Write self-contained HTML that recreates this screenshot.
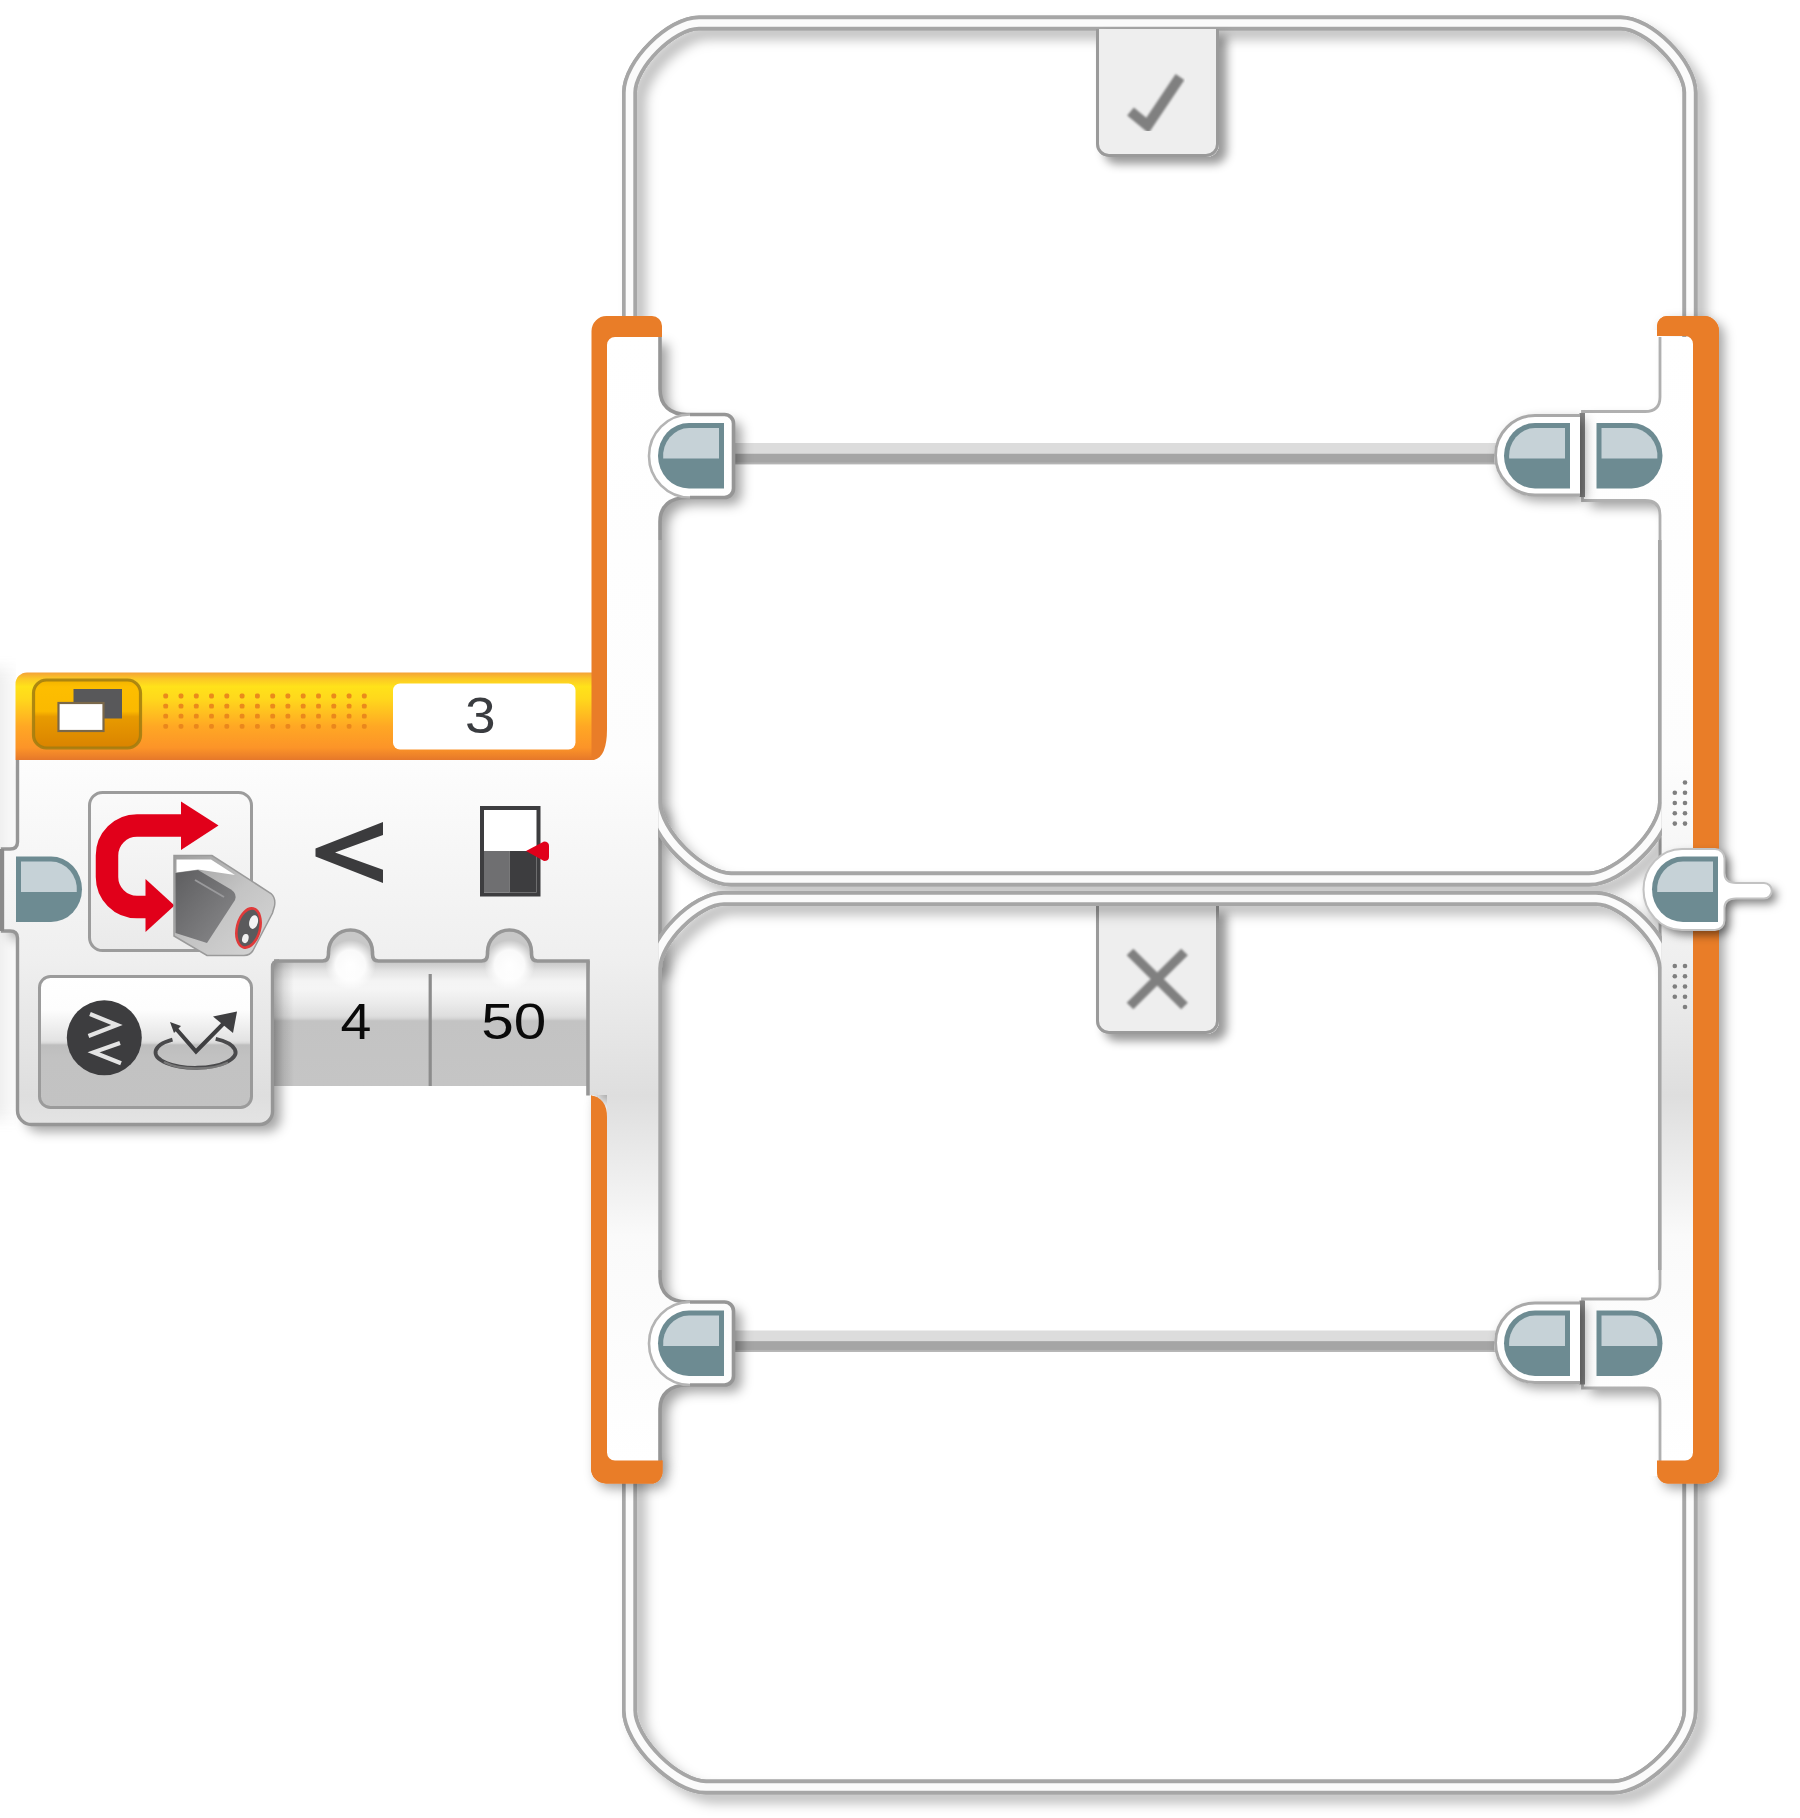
<!DOCTYPE html>
<html><head><meta charset="utf-8"><title>EV3 Switch</title>
<style>
html,body{margin:0;padding:0;background:#fff;}
body{width:1800px;height:1818px;overflow:hidden;font-family:"Liberation Sans",sans-serif;}
svg{display:block;filter:blur(0.55px);}
text{font-family:"Liberation Sans",sans-serif;}
</style></head><body>
<svg width="1800" height="1818" viewBox="0 0 1800 1818">
<defs>
<filter id="shF" filterUnits="userSpaceOnUse" x="0" y="0" width="1800" height="1818"><feDropShadow dx="9" dy="9" stdDeviation="6" flood-color="#000" flood-opacity="0.25"/></filter>
<filter id="shB" filterUnits="userSpaceOnUse" x="0" y="0" width="1800" height="1818"><feDropShadow dx="8" dy="7" stdDeviation="6" flood-color="#000" flood-opacity="0.36"/></filter>
<filter id="shO" filterUnits="userSpaceOnUse" x="0" y="0" width="1800" height="1818"><feDropShadow dx="5" dy="5" stdDeviation="6" flood-color="#000" flood-opacity="0.36"/></filter>
<filter id="shT" filterUnits="userSpaceOnUse" x="0" y="0" width="1800" height="1818"><feDropShadow dx="8" dy="7" stdDeviation="5" flood-color="#000" flood-opacity="0.40"/></filter>
<filter id="shP" filterUnits="userSpaceOnUse" x="0" y="0" width="1800" height="1818"><feDropShadow dx="5" dy="5" stdDeviation="5" flood-color="#000" flood-opacity="0.5"/></filter>
<filter id="blurS" filterUnits="userSpaceOnUse" x="-40" y="600" width="120" height="600"><feGaussianBlur stdDeviation="0 7"/></filter>
<filter id="blur1"><feGaussianBlur stdDeviation="0.8"/></filter>
<linearGradient id="gBody" gradientUnits="userSpaceOnUse" x1="0" y1="337" x2="0" y2="1461">
 <stop offset="0" stop-color="#ffffff"/>
 <stop offset="0.376" stop-color="#fdfdfd"/>
 <stop offset="0.554" stop-color="#efefef"/>
 <stop offset="0.675" stop-color="#dedede"/>
 <stop offset="0.80" stop-color="#fafafa"/>
 <stop offset="1" stop-color="#ffffff"/>
</linearGradient>
<linearGradient id="gHead" x1="0" y1="0" x2="0" y2="1">
 <stop offset="0" stop-color="#F4A238"/>
 <stop offset="0.07" stop-color="#FBC726"/>
 <stop offset="0.16" stop-color="#FFE21A"/>
 <stop offset="0.30" stop-color="#FFD81C"/>
 <stop offset="0.62" stop-color="#FFA724"/>
 <stop offset="0.86" stop-color="#FC9428"/>
 <stop offset="0.95" stop-color="#EE8229"/>
 <stop offset="1" stop-color="#E5772A"/>
</linearGradient>
<linearGradient id="gBtn" x1="0" y1="0" x2="0" y2="1">
 <stop offset="0" stop-color="#F2B200"/>
 <stop offset="0.10" stop-color="#FDBE00"/>
 <stop offset="0.46" stop-color="#FBB900"/>
 <stop offset="0.54" stop-color="#E89B00"/>
 <stop offset="1" stop-color="#DA8300"/>
</linearGradient>
<linearGradient id="gParam" gradientUnits="userSpaceOnUse" x1="0" y1="960" x2="0" y2="1086">
 <stop offset="0.016" stop-color="#c8c8c8"/>
 <stop offset="0.048" stop-color="#d3d3d3"/>
 <stop offset="0.087" stop-color="#e3e3e3"/>
 <stop offset="0.167" stop-color="#f4f4f4"/>
 <stop offset="0.23" stop-color="#f5f5f5"/>
 <stop offset="0.34" stop-color="#ebebeb"/>
 <stop offset="0.444" stop-color="#dedede"/>
 <stop offset="0.462" stop-color="#d6d6d6"/>
 <stop offset="0.484" stop-color="#c3c3c3"/>
 <stop offset="1" stop-color="#c5c5c5"/>
</linearGradient>
<radialGradient id="gHi"><stop offset="0" stop-color="#fff" stop-opacity="1"/><stop offset="0.6" stop-color="#fff" stop-opacity="0.9"/><stop offset="1" stop-color="#fff" stop-opacity="0"/></radialGradient>
<linearGradient id="gStripSh" x1="0" y1="0" x2="1" y2="0">
 <stop offset="0" stop-color="#000" stop-opacity="0.30"/><stop offset="0.5" stop-color="#000" stop-opacity="0.10"/><stop offset="1" stop-color="#000" stop-opacity="0"/>
</linearGradient>
<linearGradient id="gMode" gradientUnits="userSpaceOnUse" x1="0" y1="975" x2="0" y2="1109">
 <stop offset="0" stop-color="#ffffff"/>
 <stop offset="0.26" stop-color="#fdfdfd"/>
 <stop offset="0.49" stop-color="#e3e3e3"/>
 <stop offset="0.508" stop-color="#d8d8d8"/>
 <stop offset="0.522" stop-color="#bebebe"/>
 <stop offset="0.62" stop-color="#c2c2c2"/>
 <stop offset="1" stop-color="#c3c3c3"/>
</linearGradient>
<linearGradient id="gIcon" x1="0" y1="0" x2="0" y2="1">
 <stop offset="0" stop-color="#fafafa"/><stop offset="1" stop-color="#eaeaea"/>
</linearGradient>
<linearGradient id="gSensD" x1="0" y1="0" x2="1" y2="1">
 <stop offset="0" stop-color="#5e5e60"/><stop offset="1" stop-color="#8a8a8c"/>
</linearGradient>
<linearGradient id="gSensL" x1="0" y1="0" x2="1" y2="1">
 <stop offset="0" stop-color="#9c9c9c"/><stop offset="0.5" stop-color="#c4c4c4"/><stop offset="1" stop-color="#d6d6d6"/>
</linearGradient>
<linearGradient id="gStrip" gradientUnits="userSpaceOnUse" x1="0" y1="0" x2="16" y2="0">
 <stop offset="0" stop-color="#dcdcdc"/><stop offset="1" stop-color="#f6f6f6"/>
</linearGradient>
<clipPath id="clipIn"><rect x="658.2" y="520" width="1003.6" height="770"/></clipPath>
<clipPath id="clipOR"><path clip-rule="evenodd" d="M1600,280 H1800 V1560 H1600 Z M1630,330 H1712 V1476 H1630 Z"/></clipPath>
<clipPath id="clipOL"><path clip-rule="evenodd" d="M560,1080 H720 V1560 H560 Z M598,1060 H661 V1476 H598 Z"/></clipPath>
<g id="pin">
 <path d="M66,0 V65.5 H31 A31,32.75 0 0 1 31,0 Z" fill="#6D8B92"/>
 <path d="M61,5 V35.5 H5.2 A26,28 0 0 1 31,5 Z" fill="#C6D2D7"/>
</g>
</defs>
<rect width="1800" height="1818" fill="#fff"/>

<rect x="-12" y="668" width="28" height="452" fill="url(#gStrip)" opacity="0.42" filter="url(#blurS)"/>
<g filter="url(#shF)" fill="none">
<path d="M699.0,23 H1620.5 C1648.5,23 1690,64.5 1690,92.5 V1710.5 C1690,1741.0 1644.0,1787 1613.5,1787 H706.0 C675.5,1787 629.5,1741.0 629.5,1710.5 V92.5 C629.5,64.5 671.0,23 699.0,23 Z" stroke="#a6a6a6" stroke-width="15"/>
</g>
<g fill="none">
<path d="M699.0,23 H1620.5 C1648.5,23 1690,64.5 1690,92.5 V1710.5 C1690,1741.0 1644.0,1787 1613.5,1787 H706.0 C675.5,1787 629.5,1741.0 629.5,1710.5 V92.5 C629.5,64.5 671.0,23 699.0,23 Z" stroke="#a6a6a6" stroke-width="15"/>
<path d="M699.0,23 H1620.5 C1648.5,23 1690,64.5 1690,92.5 V1710.5 C1690,1741.0 1644.0,1787 1613.5,1787 H706.0 C675.5,1787 629.5,1741.0 629.5,1710.5 V92.5 C629.5,64.5 671.0,23 699.0,23 Z" stroke="#fbfbfb" stroke-width="7.6"/>
</g>
<rect x="730" y="443" width="770" height="10.6" fill="#dcdcdc"/>
<rect x="730" y="453.6" width="770" height="10.6" fill="#a5a5a5"/>
<rect x="730" y="462.4" width="770" height="1.8" fill="#b4b4b4"/>
<rect x="730" y="1330.5" width="770" height="10.6" fill="#dcdcdc"/>
<rect x="730" y="1341.1" width="770" height="10.6" fill="#a5a5a5"/>
<rect x="730" y="1349.9" width="770" height="1.8" fill="#b4b4b4"/>
<g filter="url(#shT)"><path d="M1096,29 H1219 V144 A13,13 0 0 1 1206,157 H1109 A13,13 0 0 1 1096,144 Z" fill="#eeeeee"/></g>
<path d="M1097.5,29 V144 A11.5,11.5 0 0 0 1109,155.5 H1206 A11.5,11.5 0 0 0 1217.5,144 V29" fill="none" stroke="#9a9a9a" stroke-width="3"/>
<path d="M1130.5,111.5 L1147.5,125.5 L1180,77" fill="none" stroke="#808080" stroke-width="10.5" stroke-linejoin="miter" filter="url(#blur1)"/>
<g filter="url(#shT)"><path d="M1096,906 H1219 V1021 A13,13 0 0 1 1206,1034 H1109 A13,13 0 0 1 1096,1021 Z" fill="#eeeeee"/></g>
<path d="M1097.5,906 V1021 A11.5,11.5 0 0 0 1109,1032.5 H1206 A11.5,11.5 0 0 0 1217.5,1021 V906" fill="none" stroke="#9a9a9a" stroke-width="3"/>
<path d="M1130,952 L1184.5,1006 M1184.5,952 L1130,1006" fill="none" stroke="#808080" stroke-width="9.5" filter="url(#blur1)"/>
<g filter="url(#shB)">
<path d="M16.5,760 H592 V700 H607 V337 H660 V389.0 C660,405.5 670,414.5 687,414.5 H724.5 A9,9 0 0 1 733.5,423.5 V488.5 A9,9 0 0 1 724.5,497.5 H687 C670,497.5 660,506.5 660,521.5 V1276.5 C660,1293.0 670,1302.0 687,1302.0 H724.5 A9,9 0 0 1 733.5,1311.0 V1376.0 A9,9 0 0 1 724.5,1385.0 H687 C670,1385.0 660,1394.0 660,1409.0 V1462 H607 V1095 H590 V961 H272.5 V1111 A13,13 0 0 1 259.5,1124.5 H31 A14,14 0 0 1 17.5,1110.5 V938 Q17.5,931 10,931 H2 V849 H10 Q17.5,849 17.5,842 Z" fill="url(#gBody)"/>
<path d="M1693,1462 H1660 V1402.5 Q1660,1388.0 1645,1388.0 H1582.5 V1299.0 H1645 Q1660,1299.0 1660,1284.5 V515.0 Q1660,500.5 1645,500.5 H1582.5 V411.5 H1645 Q1660,411.5 1660,397.0 V337 H1693 Z" fill="url(#gBody)"/>
</g>
<path d="M660,337 V389.0 C660,405.5 670,414.5 687,414.5 H724.5 A9,9 0 0 1 733.5,423.5 V488.5 A9,9 0 0 1 724.5,497.5 H687 C670,497.5 660,506.5 660,521.5 V1276.5 C660,1293.0 670,1302.0 687,1302.0 H724.5 A9,9 0 0 1 733.5,1311.0 V1376.0 A9,9 0 0 1 724.5,1385.0 H687 C670,1385.0 660,1394.0 660,1409.0 V1462" fill="none" stroke="#969696" stroke-width="3.6"/>
<path d="M1660,1462 V1402.5 Q1660,1388.0 1645,1388.0 H1582.5 V1299.0 H1645 Q1660,1299.0 1660,1284.5 V515.0 Q1660,500.5 1645,500.5 H1582.5 V411.5 H1645 Q1660,411.5 1660,397.0 V337" fill="none" stroke="#b0b0b0" stroke-width="2.8"/>
<rect x="1579.5" y="413" width="5.5" height="84" fill="#858585"/>
<rect x="1579.5" y="1300.5" width="5.5" height="84" fill="#858585"/>
<path d="M17.5,760 V842 Q17.5,849 10,849 H2.5 V931 H10 Q17.5,931 17.5,938 V1110.5 A14,14 0 0 0 31.5,1124.5 H259.5 A13,13 0 0 0 272.5,1111 V967 Q272.5,961 279,961" fill="none" stroke="#969696" stroke-width="3.4"/>
<rect x="0" y="849" width="4" height="82" fill="#8a8a8a"/>
<g clip-path="url(#clipIn)">
<g filter="url(#shF)" fill="none">
<path d="M654.5,802.5 C654.5,833.0 700.5,879 731.0,879 H1589.0 C1619.5,879 1665.5,833.0 1665.5,802.5" stroke="#a6a6a6" stroke-width="15"/>
<path d="M654.5,968.0 C654.5,940.0 696.0,898.5 724.0,898.5 H1596.0 C1624.0,898.5 1665.5,940.0 1665.5,968.0" stroke="#a6a6a6" stroke-width="15"/>
</g>
<g fill="none">
<path d="M654.5,540 V802.5 C654.5,833.0 700.5,879 731.0,879 H1589.0 C1619.5,879 1665.5,833.0 1665.5,802.5 V540" stroke="#a6a6a6" stroke-width="15"/>
<path d="M654.5,1270 V968.0 C654.5,940.0 696.0,898.5 724.0,898.5 H1596.0 C1624.0,898.5 1665.5,940.0 1665.5,968.0 V1270" stroke="#a6a6a6" stroke-width="15"/>
<path d="M654.5,540 V802.5 C654.5,833.0 700.5,879 731.0,879 H1589.0 C1619.5,879 1665.5,833.0 1665.5,802.5 V540" stroke="#fbfbfb" stroke-width="7.6"/>
<path d="M654.5,1270 V968.0 C654.5,940.0 696.0,898.5 724.0,898.5 H1596.0 C1624.0,898.5 1665.5,940.0 1665.5,968.0 V1270" stroke="#fbfbfb" stroke-width="7.6"/>
</g>
</g>
<path d="M690,414.5 A41,41.5 0 0 0 690,497.5" fill="#ffffff" stroke="#b4b4b4" stroke-width="2.6"/>
<g filter="url(#shO)"><path d="M1580,414.5 V496.0 H1535 A41,40.75 0 0 1 1535,414.5 Z" fill="#ffffff"/></g>
<path d="M1580,415.5 H1535 A39.5,39.75 0 0 0 1535,495.0 H1580" fill="none" stroke="#a9a9a9" stroke-width="3"/>
<path d="M690,1302.0 A41,41.5 0 0 0 690,1385.0" fill="#ffffff" stroke="#b4b4b4" stroke-width="2.6"/>
<g filter="url(#shO)"><path d="M1580,1302.0 V1383.5 H1535 A41,40.75 0 0 1 1535,1302.0 Z" fill="#ffffff"/></g>
<path d="M1580,1303.0 H1535 A39.5,39.75 0 0 0 1535,1382.5 H1580" fill="none" stroke="#a9a9a9" stroke-width="3"/>
<path d="M274,961 H322.5 Q328.5,961 328.5,954 V952 A22,22 0 0 1 372.5,952 V954 Q372.5,961 378.5,961 H481.5 Q487.5,961 487.5,954 V952 A22,22 0 0 1 531.5,952 V954 Q531.5,961 537.5,961 H588 V1086 H274 Z" fill="url(#gParam)"/>
<ellipse cx="350.5" cy="965" rx="25" ry="25" fill="url(#gHi)"/>
<ellipse cx="509.5" cy="965" rx="25" ry="25" fill="url(#gHi)"/>
<rect x="274" y="962" width="20" height="124" fill="url(#gStripSh)"/>
<path d="M274,961 H322.5 Q328.5,961 328.5,954 V952 A22,22 0 0 1 372.5,952 V954 Q372.5,961 378.5,961 H481.5 Q487.5,961 487.5,954 V952 A22,22 0 0 1 531.5,952 V954 Q531.5,961 537.5,961 H588 V1095.5" fill="none" stroke="#969696" stroke-width="3.6"/>
<rect x="428.6" y="974" width="3.2" height="112" fill="#8c8c8c"/>
<rect x="39.5" y="976.5" width="212" height="131" rx="11" fill="url(#gMode)" stroke="#9b9b9b" stroke-width="3"/>
<circle cx="104.3" cy="1037.8" r="37.5" fill="#3d3d3f"/>
<path d="M90,1014 L117,1025 L88.5,1036 M120,1043 L93.5,1052.3 L121,1063.3" fill="none" stroke="#e4e4e4" stroke-width="4.2" stroke-linejoin="miter"/>
<path d="M172.5,1039.6 A40,15.5 0 1 0 215.7,1038.9" fill="none" stroke="#4a4a4c" stroke-width="3.8"/>
<path d="M164,1062 A40,15.5 0 0 0 228,1062.5" fill="none" stroke="#8a8a8a" stroke-width="2.2" opacity="0.7"/>
<path d="M174.5,1027 L196,1051.5 L226,1021" fill="none" stroke="#3f3f41" stroke-width="4"/>
<path d="M213,1016.5 L237,1011.5 L233,1033 Z" fill="#3f3f41"/>
<path d="M170,1022 L181,1026 L174,1033 Z" fill="#3f3f41"/>
<rect x="89.5" y="792.5" width="162" height="158" rx="13" fill="url(#gIcon)" stroke="#9c9c9c" stroke-width="3"/>
<path d="M183,825.5 H137 A30,30 0 0 0 107,855.5 V877 A30,30 0 0 0 137,907 H147" fill="none" stroke="#E1001A" stroke-width="22.5"/>
<path d="M181,801.5 L218.5,825.5 L181,850 Z" fill="#E1001A"/>
<path d="M145.5,879 L174.5,905.5 L145.5,932 Z" fill="#E1001A"/>
<path d="M174,855.5 H212 L271,893.5 Q276,898 274.5,906 L272.5,913 L253,950.5 Q250,955.5 244,955.5 H207 L174,936 Z" fill="url(#gSensL)" stroke="#9a9a9a" stroke-width="1.5"/>
<path d="M176.5,859.5 H211 L235,875 L198,869.5 L176.5,872.5 Z" fill="#ffffff"/>
<path d="M175.5,873 L198,870 L231,889.5 Q237.5,894 235,900 L207,943 L175.5,933 Z" fill="url(#gSensD)"/>
<path d="M195,880 L224,897" stroke="#9a9a9c" stroke-width="2" fill="none"/>
<g transform="rotate(14 248.5 928)"><ellipse cx="248.5" cy="928" rx="11.5" ry="20" fill="#5a5a5c" stroke="#E03A3A" stroke-width="2.6"/><ellipse cx="252" cy="921" rx="4.3" ry="7" fill="#f4f4f4"/><ellipse cx="248" cy="939" rx="3.2" ry="4.6" fill="#f0f0f0"/></g>
<path d="M383,822 L315.5,848.5 V856.5 L383,883 V869.8 L335,852.5 L383,835 Z" fill="#3b3b3d"/>
<rect x="482" y="808" width="56.5" height="86.5" fill="#ffffff" stroke="#3d3d3f" stroke-width="4"/>
<rect x="484" y="851" width="25.5" height="41.5" fill="#6f6f71"/>
<rect x="509.5" y="851" width="27" height="41.5" fill="#3d3d3f"/>
<path d="M526,851 L544,841.5 Q549,841.5 549,846 V857 Q549,861 544,861 Z" fill="#E1001A"/>
<text x="356" y="1039" font-size="50.5" text-anchor="middle" fill="#0a0a0a" transform="translate(356 0) scale(1.1 1) translate(-356 0)">4</text>
<text x="513.8" y="1039" font-size="50" text-anchor="middle" fill="#0a0a0a" transform="translate(513.8 0) scale(1.17 1) translate(-513.8 0)">50</text>
<path d="M15.5,760 V684 A11.5,11.5 0 0 1 27,672.5 H592.5 V760 Z" fill="url(#gHead)"/>
<rect x="33.5" y="680" width="107" height="68" rx="13" fill="url(#gBtn)" stroke="#A07C10" stroke-width="3.2" stroke-opacity="0.85"/>
<rect x="73.5" y="689" width="48.5" height="29.5" fill="#58585a"/>
<rect x="58.5" y="703" width="45" height="28" fill="#ffffff" stroke="#7a684a" stroke-width="2.2"/>
<g fill="#E9861C" opacity="0.95">
<rect x="163.3" y="693.6" width="4.8" height="4.8" rx="1.6"/>
<rect x="163.3" y="703.7" width="4.8" height="4.8" rx="1.6"/>
<rect x="163.3" y="713.8" width="4.8" height="4.8" rx="1.6"/>
<rect x="163.3" y="723.9" width="4.8" height="4.8" rx="1.6"/>
<rect x="178.6" y="693.6" width="4.8" height="4.8" rx="1.6"/>
<rect x="178.6" y="703.7" width="4.8" height="4.8" rx="1.6"/>
<rect x="178.6" y="713.8" width="4.8" height="4.8" rx="1.6"/>
<rect x="178.6" y="723.9" width="4.8" height="4.8" rx="1.6"/>
<rect x="193.9" y="693.6" width="4.8" height="4.8" rx="1.6"/>
<rect x="193.9" y="703.7" width="4.8" height="4.8" rx="1.6"/>
<rect x="193.9" y="713.8" width="4.8" height="4.8" rx="1.6"/>
<rect x="193.9" y="723.9" width="4.8" height="4.8" rx="1.6"/>
<rect x="209.1" y="693.6" width="4.8" height="4.8" rx="1.6"/>
<rect x="209.1" y="703.7" width="4.8" height="4.8" rx="1.6"/>
<rect x="209.1" y="713.8" width="4.8" height="4.8" rx="1.6"/>
<rect x="209.1" y="723.9" width="4.8" height="4.8" rx="1.6"/>
<rect x="224.4" y="693.6" width="4.8" height="4.8" rx="1.6"/>
<rect x="224.4" y="703.7" width="4.8" height="4.8" rx="1.6"/>
<rect x="224.4" y="713.8" width="4.8" height="4.8" rx="1.6"/>
<rect x="224.4" y="723.9" width="4.8" height="4.8" rx="1.6"/>
<rect x="239.7" y="693.6" width="4.8" height="4.8" rx="1.6"/>
<rect x="239.7" y="703.7" width="4.8" height="4.8" rx="1.6"/>
<rect x="239.7" y="713.8" width="4.8" height="4.8" rx="1.6"/>
<rect x="239.7" y="723.9" width="4.8" height="4.8" rx="1.6"/>
<rect x="255.0" y="693.6" width="4.8" height="4.8" rx="1.6"/>
<rect x="255.0" y="703.7" width="4.8" height="4.8" rx="1.6"/>
<rect x="255.0" y="713.8" width="4.8" height="4.8" rx="1.6"/>
<rect x="255.0" y="723.9" width="4.8" height="4.8" rx="1.6"/>
<rect x="270.3" y="693.6" width="4.8" height="4.8" rx="1.6"/>
<rect x="270.3" y="703.7" width="4.8" height="4.8" rx="1.6"/>
<rect x="270.3" y="713.8" width="4.8" height="4.8" rx="1.6"/>
<rect x="270.3" y="723.9" width="4.8" height="4.8" rx="1.6"/>
<rect x="285.5" y="693.6" width="4.8" height="4.8" rx="1.6"/>
<rect x="285.5" y="703.7" width="4.8" height="4.8" rx="1.6"/>
<rect x="285.5" y="713.8" width="4.8" height="4.8" rx="1.6"/>
<rect x="285.5" y="723.9" width="4.8" height="4.8" rx="1.6"/>
<rect x="300.8" y="693.6" width="4.8" height="4.8" rx="1.6"/>
<rect x="300.8" y="703.7" width="4.8" height="4.8" rx="1.6"/>
<rect x="300.8" y="713.8" width="4.8" height="4.8" rx="1.6"/>
<rect x="300.8" y="723.9" width="4.8" height="4.8" rx="1.6"/>
<rect x="316.1" y="693.6" width="4.8" height="4.8" rx="1.6"/>
<rect x="316.1" y="703.7" width="4.8" height="4.8" rx="1.6"/>
<rect x="316.1" y="713.8" width="4.8" height="4.8" rx="1.6"/>
<rect x="316.1" y="723.9" width="4.8" height="4.8" rx="1.6"/>
<rect x="331.4" y="693.6" width="4.8" height="4.8" rx="1.6"/>
<rect x="331.4" y="703.7" width="4.8" height="4.8" rx="1.6"/>
<rect x="331.4" y="713.8" width="4.8" height="4.8" rx="1.6"/>
<rect x="331.4" y="723.9" width="4.8" height="4.8" rx="1.6"/>
<rect x="346.7" y="693.6" width="4.8" height="4.8" rx="1.6"/>
<rect x="346.7" y="703.7" width="4.8" height="4.8" rx="1.6"/>
<rect x="346.7" y="713.8" width="4.8" height="4.8" rx="1.6"/>
<rect x="346.7" y="723.9" width="4.8" height="4.8" rx="1.6"/>
<rect x="361.9" y="693.6" width="4.8" height="4.8" rx="1.6"/>
<rect x="361.9" y="703.7" width="4.8" height="4.8" rx="1.6"/>
<rect x="361.9" y="713.8" width="4.8" height="4.8" rx="1.6"/>
<rect x="361.9" y="723.9" width="4.8" height="4.8" rx="1.6"/>
</g>
<rect x="393" y="683.5" width="182.5" height="66" rx="7" fill="#ffffff"/>
<text x="480.3" y="733" font-size="50" text-anchor="middle" fill="#3a3c40" transform="translate(480.3 0) scale(1.1 1) translate(-480.3 0)">3</text>
<g clip-path="url(#clipOR)"><g filter="url(#shO)">
<path d="M1657,326 A10,10 0 0 1 1667,316 H1704 A15,15 0 0 1 1719,331 V1468.5 A15,15 0 0 1 1704,1483.5 H1668 A11,11 0 0 1 1657,1472.5 V1460.5 H1685 A8,8 0 0 0 1693,1452.5 V344 A8,8 0 0 0 1685,336 H1657 Z" fill="#E97D28"/>
</g></g>
<g clip-path="url(#clipOL)"><g filter="url(#shO)">
<path d="M591,1095.5 Q607,1098 607,1117 V1452.5 A8,8 0 0 0 615,1460.5 H662.5 V1472 A11.5,11.5 0 0 1 651,1483.5 H606 A15,15 0 0 1 591,1468.5 Z" fill="#E97D28"/>
</g></g>
<path d="M1657,326 A10,10 0 0 1 1667,316 H1704 A15,15 0 0 1 1719,331 V1468.5 A15,15 0 0 1 1704,1483.5 H1668 A11,11 0 0 1 1657,1472.5 V1460.5 H1685 A8,8 0 0 0 1693,1452.5 V344 A8,8 0 0 0 1685,336 H1657 Z" fill="#E97D28"/>
<path d="M591,1095.5 Q607,1098 607,1117 V1452.5 A8,8 0 0 0 615,1460.5 H662.5 V1472 A11.5,11.5 0 0 1 651,1483.5 H606 A15,15 0 0 1 591,1468.5 Z" fill="#E97D28"/>
<path d="M591.5,760 V331 A15,15 0 0 1 606.5,316 H652 A10,10 0 0 1 662,326 V337 H615 A8,8 0 0 0 607,345 V729 Q607,757 594,760 Z" fill="#E97D28"/>
<use href="#pin" x="658" y="423"/>
<use href="#pin" x="658" y="1310.5"/>
<use href="#pin" x="1504" y="423"/>
<use href="#pin" x="1504" y="1310.5"/>
<use href="#pin" transform="translate(1662.5 423) scale(-1 1)"/>
<use href="#pin" transform="translate(1662.5 1310.5) scale(-1 1)"/>
<use href="#pin" transform="translate(82 856.5) scale(-1 1)"/>
<g fill="#7f7f7f">
<circle cx="1685" cy="782.5" r="2.3"/>
<circle cx="1674.8" cy="792.7" r="2.3"/>
<circle cx="1685" cy="792.7" r="2.3"/>
<circle cx="1674.8" cy="803" r="2.3"/>
<circle cx="1685" cy="803" r="2.3"/>
<circle cx="1674.8" cy="813.3" r="2.3"/>
<circle cx="1685" cy="813.3" r="2.3"/>
<circle cx="1674.8" cy="823.6" r="2.3"/>
<circle cx="1685" cy="823.6" r="2.3"/>
<circle cx="1674.8" cy="966" r="2.3"/>
<circle cx="1685" cy="966" r="2.3"/>
<circle cx="1674.8" cy="976.2" r="2.3"/>
<circle cx="1685" cy="976.2" r="2.3"/>
<circle cx="1674.8" cy="986.5" r="2.3"/>
<circle cx="1685" cy="986.5" r="2.3"/>
<circle cx="1674.8" cy="996.8" r="2.3"/>
<circle cx="1685" cy="996.8" r="2.3"/>
<circle cx="1685" cy="1007" r="2.3"/>
</g>
<g filter="url(#shP)"><path d="M1682,849 H1715 A9.5,9.5 0 0 1 1724.5,858.5 V873 Q1724.5,883 1736,883 H1764 A7.7,7.7 0 0 1 1764,898.5 H1736 Q1724.5,898.5 1724.5,908 V920.5 A9.5,9.5 0 0 1 1715,930 H1682 A38.5,40.5 0 0 1 1682,849 Z" fill="#ffffff"/></g>
<path d="M1682,849 H1715 A9.5,9.5 0 0 1 1724.5,858.5 V873 Q1724.5,883 1736,883 H1764 A7.7,7.7 0 0 1 1764,898.5 H1736 Q1724.5,898.5 1724.5,908 V920.5 A9.5,9.5 0 0 1 1715,930 H1682 A38.5,40.5 0 0 1 1682,849 Z" fill="#ffffff" stroke="#c2c2c2" stroke-width="2"/>
<use href="#pin" x="1652" y="856.5"/>
</svg></body></html>
